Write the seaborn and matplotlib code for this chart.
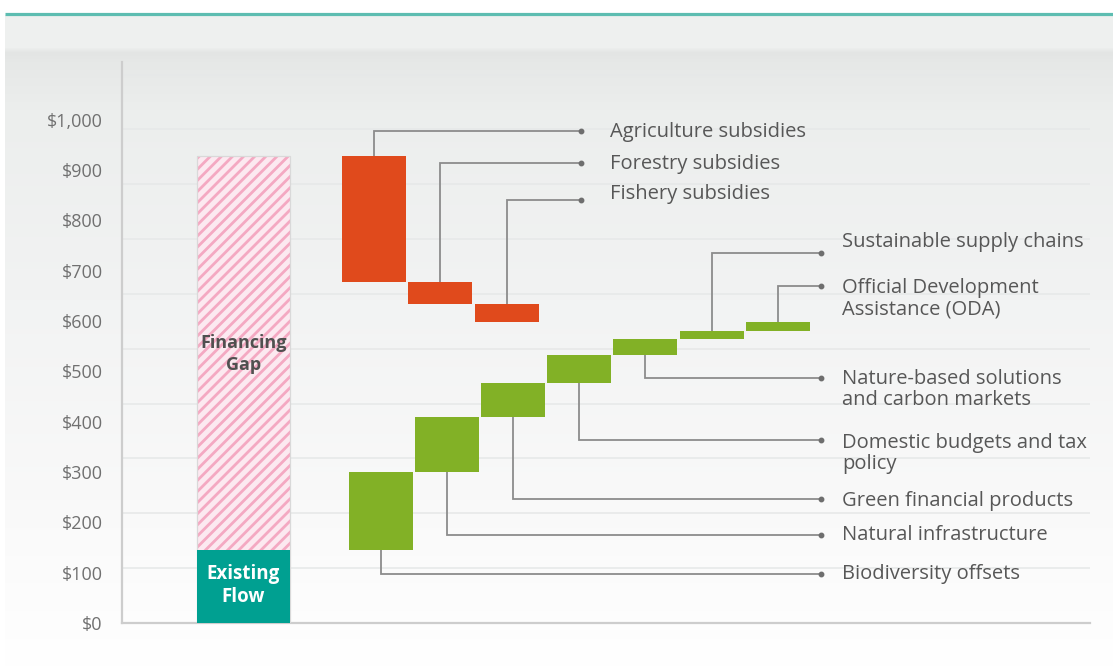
import numpy as np
import matplotlib
matplotlib.use("Agg")
import matplotlib.pyplot as plt
import seaborn as sns
from matplotlib.colors import to_rgb

# ---- data (USD billions per year) -------------------------------------
existing_flow = 145
total_need = 928
stack_labels = ["Existing\nFlow", "Financing\nGap"]

subsidy_labels = ["Agriculture subsidies", "Forestry subsidies", "Fishery subsidies"]
subsidy_values = [250, 44, 36]

source_labels = [
    "Biodiversity offsets",
    "Natural infrastructure",
    "Green financial products",
    "Domestic budgets and tax\npolicy",
    "Nature-based solutions\nand carbon markets",
    "Sustainable supply chains",
    "Official Development\nAssistance (ODA)",
]
source_values = [155, 110, 67, 56, 32, 16, 17]

ytick_values = [0, 100, 200, 300, 400, 500, 600, 700, 800, 900, 1000]
ytick_labels = ["$0", "$100", "$200", "$300", "$400", "$500",
                "$600", "$700", "$800", "$900", "$1,000"]

# ---- layout -------------------------------------------------------------
subsidy_line_y = [978, 914, 841]          # leader levels for the subsidy labels
subsidy_text_y = [975, 913, 853]
source_line_y = [97, 175, 247, 364, 487, 736, 670]
source_text_y = [97, 174, 242, 360, 487, 757, 667]
source_from_top = [False, False, False, False, False, True, True]
grid_levels = [109, 218, 327, 436, 545, 654, 763, 872, 981, 1090]

RED = "#e04a1c"
GREEN = "#82b126"
TEAL = "#00a091"
PINK = "#f4a9c2"
LEADER = "#8c8c8c"
TEXT = "#575757"

sns.set_theme(style="white")
plt.rcParams["font.family"] = ["Open Sans", "DejaVu Sans"]
plt.rcParams["hatch.linewidth"] = 2.0

W, H = 1113, 666
fig = plt.figure(figsize=(W / 100, H / 100), dpi=100)
fig.patch.set_facecolor("white")

# ---- page background: soft grey fading to white, teal rule on top ------
bg = fig.add_axes([0, 0, 1, 1], zorder=-10)
bg.set_axis_off()
stops = [(0, "#ffffff"), (14, "#ffffff"), (15, "#eef0ef"), (47, "#eef0ef"),
         (52, "#e3e5e4"), (62, "#e6e8e7"), (110, "#eceeed"), (300, "#f2f3f3"),
         (500, "#f9f9f9"), (666, "#ffffff")]
rows = np.arange(H)
sp = np.array([s[0] for s in stops], float)
sc = np.array([to_rgb(s[1]) for s in stops])
col = np.stack([np.interp(rows, sp, sc[:, k]) for k in range(3)], axis=1)
img = np.repeat(col[:, None, :], W, axis=1)
img[:, :5, :] = 1.0
bg.imshow(img, extent=[0, 1, 0, 1], aspect="auto", interpolation="bilinear")
bg.plot([5 / W, 1], [1 - 13.5 / H] * 2, color="#5dbdb1", lw=2.3,
        solid_capstyle="butt")
bg.set_xlim(0, 1)
bg.set_ylim(0, 1)

# ---- main axes -----------------------------------------------------------
px = 66.3  # pixels per x unit
ax = fig.add_axes([122 / W, 1 - 623 / H, (1090 - 122) / W, (623 - 62) / H])
ax.patch.set_alpha(0)

def xu(p):
    return (p - 122) / px

main_x = xu(243.5)
main_w = 93 / px
red_x = [xu(374) + i for i in range(len(subsidy_values))]
green_x = [xu(380.5) + i * (66.2 / px) for i in range(len(source_values))]
bar_w = 64 / px

for g in grid_levels:
    ax.axhline(g, color="#e6e8e8", lw=1.1, zorder=0)

# stacked left column: hatched financing need with existing flow below
sns.barplot(x=[main_x], y=[total_need], native_scale=True, width=main_w,
            color="#fce9f0", edgecolor=PINK, hatch="///", linewidth=0,
            saturation=1, ax=ax, zorder=2)
sns.barplot(x=[main_x], y=[total_need], native_scale=True, width=main_w,
            color="#d9d9d9", fill=False, linewidth=0.9, ax=ax, zorder=3)
sns.barplot(x=[main_x], y=[existing_flow], native_scale=True, width=main_w,
            color=TEAL, edgecolor=TEAL, linewidth=0, saturation=1, ax=ax,
            zorder=4)

# subsidy reform steps down from the total need
sub_tops = total_need - np.concatenate([[0], np.cumsum(subsidy_values)[:-1]])
sub_bottoms = sub_tops - np.array(subsidy_values)
sns.barplot(x=red_x, y=subsidy_values, bottom=sub_bottoms, native_scale=True,
            width=bar_w / (red_x[1] - red_x[0]), color=RED, edgecolor=RED,
            linewidth=0, saturation=1, ax=ax, zorder=3)

# new finance sources step up from the existing flow
src_bottoms = existing_flow + np.concatenate([[0], np.cumsum(source_values)[:-1]])
src_tops = src_bottoms + np.array(source_values)
sns.barplot(x=green_x, y=source_values, bottom=src_bottoms, native_scale=True,
            width=bar_w / (green_x[1] - green_x[0]), color=GREEN, edgecolor=GREEN,
            linewidth=0, saturation=1, ax=ax, zorder=3)

# column captions
ax.text(main_x, 534, stack_labels[1], ha="center", va="center", fontsize=13,
        fontweight="bold", color="#505050", linespacing=1.3, zorder=5)
ax.text(main_x, 74, stack_labels[0], ha="center", va="center", fontsize=13.5,
        fontweight="bold", color="white", linespacing=1.2, zorder=5)

# leader lines and labels
line_px = 23

def leader(x0, y0, y1, xdot, xtext, ytext, label):
    ax.plot([x0, x0, xdot], [y0, y1, y1], color=LEADER, lw=1.3, zorder=2,
            solid_joinstyle="miter", clip_on=False)
    ax.plot([xdot], [y1], "o", color="#6e6e6e", ms=3.2, zorder=2, clip_on=False)
    n = label.count("\n")
    ax.annotate(label, xy=(xtext, ytext), xytext=(0, -n * line_px / 2),
                textcoords="offset pixels", ha="left", va="center",
                fontsize=14.5, color=TEXT, linespacing=1.1, clip_on=False,
                annotation_clip=False)

for i, lab in enumerate(subsidy_labels):
    leader(red_x[i], sub_tops[i], subsidy_line_y[i], xu(581), xu(610),
           subsidy_text_y[i], lab)

for i, lab in enumerate(source_labels):
    y0 = src_tops[i] if source_from_top[i] else src_bottoms[i]
    leader(green_x[i], y0, source_line_y[i], xu(821), xu(842),
           source_text_y[i], lab)

# axes styling
ax.set_xlim(0, (1090 - 122) / px)
ax.set_ylim(0, 1115)
ax.set_xticks([])
ax.set_xlabel("")
ax.set_ylabel("")
ax.set_yticks(ytick_values, ytick_labels)
ax.tick_params(axis="y", length=0, pad=14, labelsize=13, labelcolor="#707070")
for s in ["top", "right"]:
    ax.spines[s].set_visible(False)
for s in ["left", "bottom"]:
    ax.spines[s].set_color("#cdcdcd")
    ax.spines[s].set_linewidth(1.6)

fig.savefig("out.png", dpi=100)
